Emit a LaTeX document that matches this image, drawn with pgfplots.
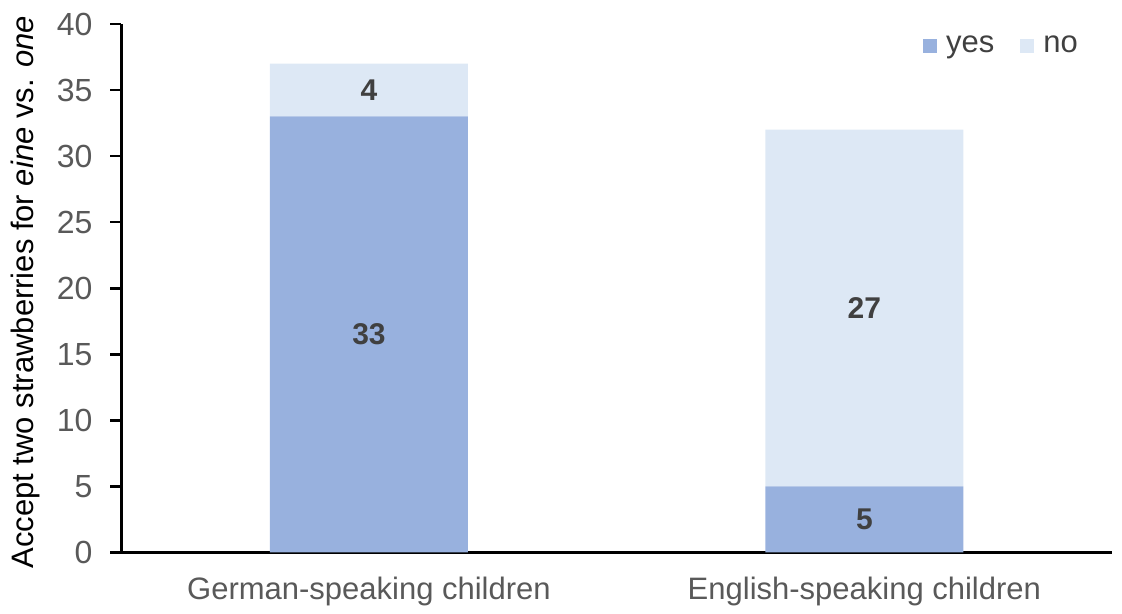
\documentclass[border=0pt]{standalone}
\usepackage{fontspec}
\setmainfont{Liberation Sans}
\usepackage{pgfplots}
\usepackage{pgfplotstable}
\pgfplotsset{compat=1.18}
\definecolor{yesc}{HTML}{98B1DE}
\definecolor{noc}{HTML}{DDE8F5}
\definecolor{tickc}{HTML}{595959}
\definecolor{labc}{HTML}{404040}

\pgfplotstableread{
x y
0 33
1 5
}\yesdata
\pgfplotstableread{
x y
0 4
1 27
}\nodata
\pgfplotstableread{
x y l
0 16.5 33
0 35 4
1 2.5 5
1 18.5 27
}\labdata

\begin{document}
\fontsize{15.5pt}{18.6pt}\selectfont
\begin{tikzpicture}
\path[use as bounding box] (-60.625pt,-30.75pt) rectangle (500.375pt,276.25pt);
\pgfplotsset{
 common/.style={
  at={(0pt,0pt)}, anchor=south west,
  scale only axis, width=495.4pt, height=264.25pt,
  xmin=-0.5, xmax=1.5, ymin=0, ymax=40,
 }
}
\begin{axis}[common,
 ybar stacked, bar width=99pt,
 axis x line*=bottom, axis y line*=left,
 axis line style={black, line width=1.3pt, -},
 x axis line style={shorten <=-5.5pt},
 xtick={0,1}, xticklabels={German-speaking children, English-speaking children},
 xtick style={draw=none},
 ytick={0,5,...,40},
 ytick style={black, line width=1.3pt},
 tick align=outside, major tick length=5.5pt,
 /pgf/number format/assume math mode=true,
 yticklabel style={text=tickc, font=\fontsize{16pt}{19pt}\selectfont, xshift=-3.5pt},
 xticklabel style={text=tickc, anchor=base, yshift=-17.75pt},
 ylabel={Accept two strawberries for \textit{eine} vs. \textit{one}},
 every axis y label/.style={at={([xshift=-48pt,yshift=-2pt]axis description cs:0,0.5)}, rotate=90, anchor=center, text=black},
 legend style={at={(0.970,0.958)}, anchor=east, draw=none, fill=none, inner sep=0pt, text=labc,
   /tikz/every even column/.append style={column sep=11pt},
   /tikz/every odd column/.append style={column sep=2.5pt}},
 legend image code/.code={\fill[#1] (0pt,-3.5pt) rectangle (7pt,3.5pt);},
 legend columns=2,
]
\addplot[fill=yesc, draw=none] table[x=x,y=y] {\yesdata};
\addplot[fill=noc, draw=none] table[x=x,y=y] {\nodata};
\legend{yes,no}
\end{axis}
\begin{axis}[common, hide axis]
\addplot[only marks, mark=none, nodes near coords, point meta=explicit symbolic,
  every node near coord/.style={anchor=center, font=\fontsize{15pt}{18pt}\selectfont\bfseries, text=labc}]
  table[x=x,y=y,meta=l] {\labdata};
\end{axis}
\end{tikzpicture}
\end{document}
